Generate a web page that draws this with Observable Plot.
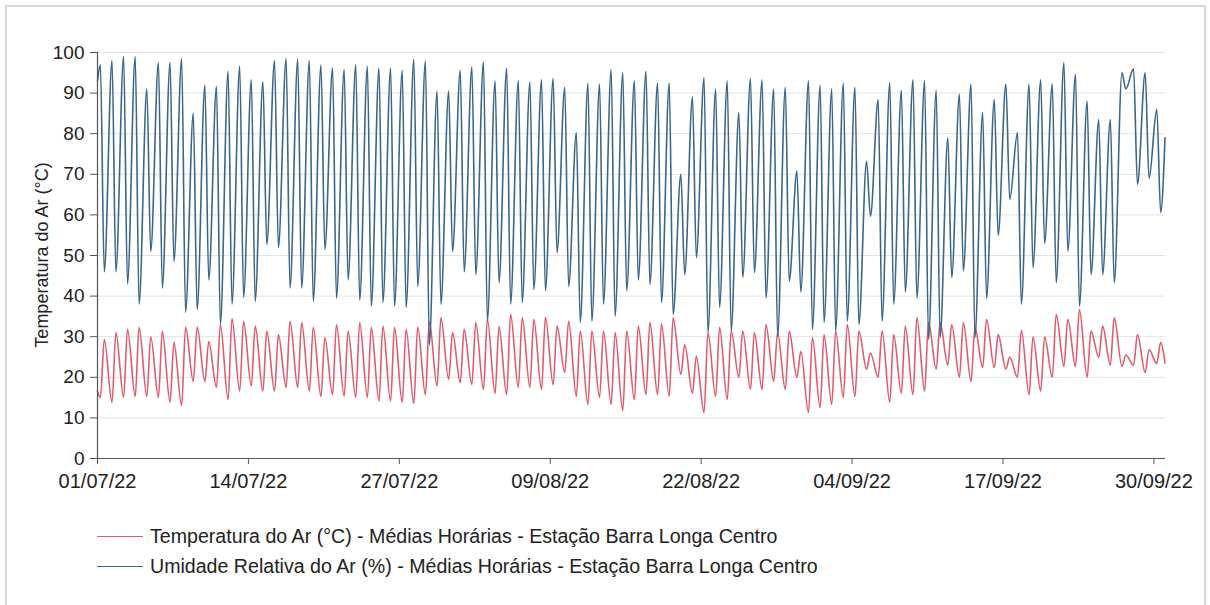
<!DOCTYPE html>
<html><head><meta charset="utf-8">
<script src="https://cdn.jsdelivr.net/npm/d3@7"></script>
<script src="https://cdn.jsdelivr.net/npm/@observablehq/plot@0.6"></script>
<style>
body{margin:0;background:#fff;font-family:"Liberation Sans",Arial,sans-serif;width:1210px;height:605px;overflow:hidden;position:relative;}
#frame{position:absolute;left:5px;top:5px;width:1201px;height:602px;border:2px solid #d9d9d9;box-sizing:border-box;}
#chart{position:absolute;left:0;top:0;}
#ytitle{position:absolute;left:42px;top:255px;transform:translate(-50%,-50%) rotate(-90deg);white-space:nowrap;font-size:18px;color:#222;}
#legend{position:absolute;left:97px;top:521px;font-size:19.6px;color:#222;}
.row{display:flex;align-items:center;height:30px;}
.sw{width:46px;height:0;border-top:1.6px solid;margin-right:7px;}
</style></head>
<body>
<div id="frame"></div>
<div id="chart"></div>
<div id="ytitle">Temperatura do Ar (°C)</div>
<div id="legend"></div>
<script>
// Daily readings (01/07/22 .. 30/09/22), hourly means
const startDay = "2022-07-01";
const xTickLabels = ["01/07/22","14/07/22","27/07/22","09/08/22","22/08/22","04/09/22","17/09/22","30/09/22"];
const yTicks = [0,10,20,30,40,50,60,70,80,90,100];

// Relative humidity (%): early-morning maximum and afternoon minimum of each day
const umidMax = [97,98,99,99,91,97.5,97.5,98.5,85,92,91.6,95.4,96.6,93.3,92.8,98,98.5,98.3,98,96.9,96.2,95.8,97,
  96.6,96.2,96.2,95.6,98.3,97.9,90.5,90.5,95.6,96.4,97.7,93,96.2,93,92.8,93.3,93.6,91.4,80.3,92.4,92.2,95.8,95,
  93,95.4,92.5,92.5,70,89,93.8,91,93,85.2,93.6,93.3,91,91.4,70.8,93,91.9,91,92.5,91.4,73.2,88.4,92.6,90.7,
  93.3,93,90.7,79,89.7,92.2,85.2,88.4,92.2,80.3,92.2,93.3,92.2,97.5,94.6,88,83.5,83.5,95,96,95,86];
const umidMin = [46,46,43,38,51,42,48.5,36,36.7,44,33,38,39.7,38.7,52.7,52,42,42,38.7,51.5,39.5,44,39,
  37.5,38.4,37.5,37.2,42.4,28,38,51,46,45.3,33.8,43.3,38,38.4,41.6,41.3,50.7,42.4,33.5,33.8,38,35,41.3,
  44,42.9,38.4,35.5,45.3,49.5,31,37.2,31.4,44.6,45.8,39.5,30,43.7,41,31.8,33.5,31.4,33.8,33,59.7,33.8,38,41,
  39.5,29.3,29.8,44.6,46.2,29.8,39.5,55,63.8,38,47,53,43.3,51,37.5,45.3,45.3,43.3,91,67.5,69,60.6];
const umidFirst = 93, umidLast = 79;

// Air temperature (°C): early-morning minimum and afternoon maximum of each day
const tempMin = [15,13.8,15.1,15.3,15.3,15,13.8,13,19,19,17.5,14.5,16.6,17.8,16.6,16.6,17.5,17.5,16.6,15.3,15.7,15.3,15,
  15,14.1,14.1,13.8,13.5,15.7,17.8,19.5,18.7,18.2,17,16,15.7,17.5,17.5,17,18.2,21.2,15.3,13.3,15,13.3,11.8,
  14.5,15.7,15.7,15.3,20.7,16.1,11.3,15.3,14.5,20,17,17,19,17,20,11.3,12.5,13.3,15,15.3,22,20,13.8,16.1,
  15.7,16.6,22,23,20,19,22.4,22.4,22,20,15.7,16.6,20,22.7,22.7,20,24.9,23,22.7,23,21.2,23.4];
const tempMax = [29.3,31,31.8,32.3,30,31.3,28.6,32.3,32.4,28.8,33,34.5,33.8,32.6,31.4,30.5,33.8,33.5,32.3,29.8,33,31.4,33.5,
  32.3,32.6,32.3,31.8,32.4,33.8,34.7,31,31.8,33.5,34.3,32.5,35.5,34.7,34.3,34.8,32.6,33.8,31.4,31.4,31.4,31,31.4,
  32.6,33.5,33.2,34.7,28,25.2,31,32.3,31.4,31.4,31,33,31,31.4,26.4,29.8,30.5,31.4,33,31.4,26,31.4,30.5,32.6,
  34.7,33.5,33.5,33,33.5,32.3,34.3,30.5,25,31.6,30,30,35.5,34.3,36.7,31.4,32.6,34.7,25.5,30.5,26.8,28.6];
const tempFirst = 16.5, tempLast = 23.5;

const seriesNames = [
  "Temperatura do Ar (°C) - Médias Horárias - Estação Barra Longa Centro",
  "Umidade Relativa do Ar (%) - Médias Horárias - Estação Barra Longa Centro"
];
const seriesColors = ["#e05c6c", "#3b6689"];

// ---- build tables ----
const H = 3600e3, D = 24 * H;
const t0 = Date.parse(startDay + "T00:00:00Z");
const nDays = umidMax.length;
function build(first, morning, afternoon, last, name) {
  const rows = [{t: new Date(t0), v: first, s: name}];
  for (let i = 0; i < nDays; i++) {
    rows.push({t: new Date(t0 + i * D + 6 * H), v: morning[i], s: name});
    rows.push({t: new Date(t0 + i * D + 14 * H), v: afternoon[i], s: name});
  }
  rows.push({t: new Date(t0 + nDays * D - H), v: last, s: name});
  return rows;
}
const temp = build(tempFirst, tempMin, tempMax, tempLast, seriesNames[0]);
const umid = build(umidFirst, umidMax, umidMin, umidLast, seriesNames[1]);
const parseTick = d3.utcParse("%d/%m/%y");
const xTicks = xTickLabels.map(parseTick);
const fmt = d3.utcFormat("%d/%m/%y");

const chart = Plot.plot({
  width: 1210,
  height: 500,
  marginLeft: 97,
  marginRight: 45,
  marginTop: 52,
  marginBottom: 42,
  style: {fontFamily: "'Liberation Sans', Arial, sans-serif", color: "#222", background: "transparent", overflow: "visible"},
  x: {type: "utc", domain: [new Date(t0), new Date(t0 + nDays * D)]},
  y: {domain: [0, 100]},
  marks: [
    Plot.gridY(yTicks.filter(d => d > 0), {stroke: "#e3e3e3", strokeOpacity: 1, strokeWidth: 1}),
    Plot.line(temp, {x: "t", y: "v", stroke: seriesColors[0], strokeWidth: 1.6, curve: "monotone-x"}),
    Plot.line(umid, {x: "t", y: "v", stroke: seriesColors[1], strokeWidth: 1.6, curve: "monotone-x"}),
    Plot.ruleY([0], {stroke: "#555", strokeWidth: 1.2}),
    Plot.ruleX([new Date(t0)], {stroke: "#555", strokeWidth: 1.2}),
    Plot.axisY({ticks: yTicks, tickSize: 7, tickPadding: 6, fontSize: 19, label: null, stroke: "#555"}),
    Plot.axisX({ticks: xTicks, tickFormat: fmt, tickSize: 6, tickPadding: 9, fontSize: 20, label: null, stroke: "#555"})
  ]
});
document.getElementById("chart").appendChild(chart);

const legend = d3.select("#legend");
seriesNames.forEach((n, i) => {
  const r = legend.append("div").attr("class", "row");
  r.append("div").attr("class", "sw").style("border-color", seriesColors[i]);
  r.append("span").text(n);
});
</script>
</body></html>
